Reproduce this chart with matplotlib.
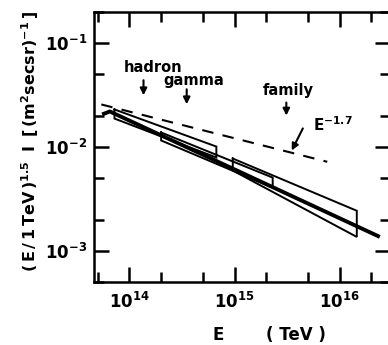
import numpy as np
import matplotlib.pyplot as plt
from matplotlib.ticker import LogLocator

plt.rcParams['font.family'] = 'DejaVu Sans'
plt.rcParams['font.weight'] = 'bold'
plt.rcParams['mathtext.fontset'] = 'dejavusans'
plt.rcParams['mathtext.default'] = 'bf'

# E^-1.7 reference line (dashed)
ref_E = [5.4e13, 7.6e15]
ref_I = [0.0257, 0.0072]

# combined fit (thick line)
fit_E = [5.5e13, 6.5e13, 2.4e16]
fit_I = [0.0206, 0.0220, 0.00136]

# error boxes: energy range, upper edge, lower edge
hadron_E = [7.2e13, 6.7e14]
hadron_top = [0.0230, 0.0101]
hadron_bot = [0.0188, 0.00792]

gamma_E = [2.0e14, 2.3e15]
gamma_top = [0.0138, 0.00507]
gamma_bot = [0.01156, 0.00406]

family_E = [9.6e14, 1.45e16]
family_top = [0.00774, 0.00243]
family_bot = [0.00593, 0.00136]

fig = plt.figure(figsize=(3.88, 3.45), dpi=100)
ax = fig.add_axes([94 / 388, 63 / 345, 296 / 388, 270 / 345])

ax.set_xscale('log')
ax.set_yscale('log')
ax.set_xlim(4.6e13, 3e16)
ax.set_ylim(5e-4, 0.2)

# boxes
for E, top, bot in [(hadron_E, hadron_top, hadron_bot),
                    (gamma_E, gamma_top, gamma_bot),
                    (family_E, family_top, family_bot)]:
    xs = [E[0], E[1], E[1], E[0], E[0]]
    ys = [top[0], top[1], bot[1], bot[0], top[0]]
    ax.plot(xs, ys, color='black', lw=1.4, solid_joinstyle='miter')

ax.plot(fit_E, fit_I, color='black', lw=2.8, solid_capstyle='butt')
ax.plot(ref_E, ref_I, color='black', lw=1.5, dashes=(5.5, 4.5))

# labels with arrows
arrow = dict(arrowstyle='-|>', color='black', lw=1.5, mutation_scale=10,
             shrinkA=0, shrinkB=0)
ax.text(1.66e14, 0.0525, 'hadron', ha='center', va='baseline', fontsize=10.5)
ax.annotate('', xy=(1.36e14, 0.0315), xytext=(1.36e14, 0.044), arrowprops=arrow)
ax.text(4.1e14, 0.0393, 'gamma', ha='center', va='baseline', fontsize=10.5)
ax.annotate('', xy=(3.5e14, 0.0258), xytext=(3.5e14, 0.036), arrowprops=arrow)
ax.text(3.2e15, 0.0315, 'family', ha='center', va='baseline', fontsize=10.5)
ax.annotate('', xy=(3.1e15, 0.0201), xytext=(3.1e15, 0.0268), arrowprops=arrow)
ax.text(5.5e15, 0.0144, r'$E^{-1.7}$', ha='left', va='baseline', fontsize=11)
ax.annotate('', xy=(3.49e15, 0.00925), xytext=(4.45e15, 0.0151), arrowprops=arrow)

# axes styling
for s in ax.spines.values():
    s.set_linewidth(1.8)
ax.xaxis.set_major_locator(LogLocator(base=10, numticks=10))
ax.xaxis.set_minor_locator(LogLocator(base=10, subs=(2, 5), numticks=10))
ax.yaxis.set_major_locator(LogLocator(base=10, numticks=10))
ax.yaxis.set_minor_locator(LogLocator(base=10, subs=(2, 5), numticks=10))
ax.tick_params(which='both', direction='in', top=True, right=True, width=1.8)
ax.tick_params(which='major', length=11, labelsize=12)
ax.tick_params(which='minor', length=7)
ax.tick_params(axis='x', which='major', pad=7)
ax.tick_params(axis='y', which='major', pad=5)

fig.text(218 / 388, 1 - 335 / 345, 'E', ha='center', va='center', fontsize=12)
fig.text(296 / 388, 1 - 335 / 345, '( TeV )', ha='center', va='center', fontsize=12)
fig.text(30 / 388, 1 - 142 / 345,
         r'$(\,E\,/\,1\,TeV\,)^{1.5}\;\;I\;\;[\,(m^{2}secsr)^{-1}\,]$',
         rotation=90, ha='center', va='center', fontsize=11.5)

fig.savefig('out.png', dpi=100)
